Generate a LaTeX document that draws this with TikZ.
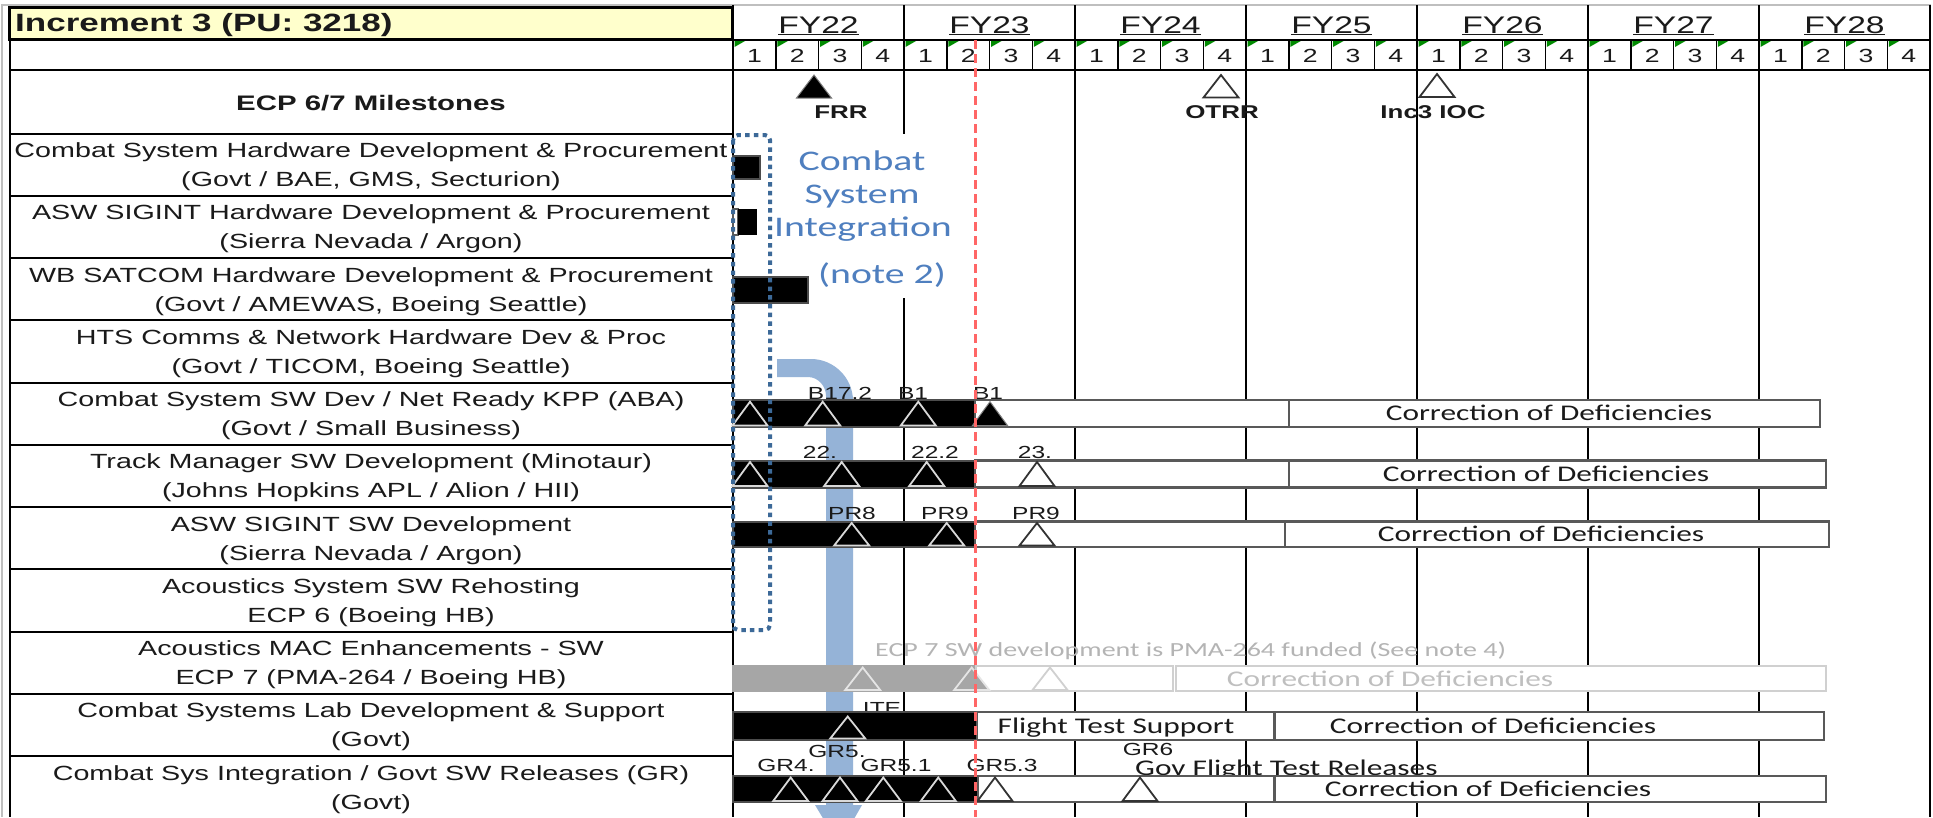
\documentclass[tikz,border=0pt]{standalone}
\usepackage{fontspec}
\setmainfont{Liberation Sans}[FakeStretch=1.4]
\newfontfamily\calfont{Carlito}[FakeStretch=1.4]
\usetikzlibrary{calc}
\definecolor{lblue}{HTML}{95B3D7}
\definecolor{dblue}{HTML}{3C6998}
\definecolor{tblue}{HTML}{4F7FBF}
\definecolor{hyel}{HTML}{FFFFCC}
\definecolor{rdash}{HTML}{FF6666}
\definecolor{qgreen}{HTML}{008A00}
\definecolor{ink}{HTML}{1A1A1A}
\definecolor{barg}{HTML}{A6A6A6}
\definecolor{lgray}{HTML}{D0D0D0}
\definecolor{ngray}{HTML}{B4B4B4}
\newcommand{\mtri}[4]{\draw[#1] ({#2-17.5},{#4}) -- ({#2},{#3}) -- ({#2+17.5},{#4}) -- cycle;}
\begin{document}
\begin{tikzpicture}[x=1pt,y=-1pt,
  gridline/.style={line width=2pt, black},
  lbl/.style={anchor=base, inner sep=0pt, text=ink, font=\fontsize{20.5}{24}\selectfont},
  hdr/.style={anchor=base west, inner sep=0pt, text=ink, font=\bfseries\fontsize{25}{29}\selectfont},
  fylbl/.style={anchor=base, inner sep=0pt, text=ink, font=\fontsize{24}{28}\selectfont},
  qlbl/.style={anchor=base, inner sep=0pt, text=ink, font=\fontsize{19}{22}\selectfont},
  mslbl/.style={anchor=base, inner sep=0pt, text=ink, font=\bfseries\fontsize{18.5}{22}\selectfont},
  smlbl/.style={anchor=base, inner sep=0pt, text=ink, font=\fontsize{17.5}{21}\selectfont},
  cdtext/.style={anchor=base, inner sep=0pt, text=ink, font=\calfont\fontsize{22.4}{26}\selectfont},
  bluetxt/.style={anchor=base, inner sep=0pt, text=tblue, font=\calfont\fontsize{28.4}{34}\selectfont},
  blkbar/.style={fill=black, draw=gray!60!black, line width=2pt},
  whbar/.style={fill=white, draw=black!65, line width=2.5pt},
  lgbar/.style={fill=white, draw=lgray, line width=2.5pt},
  graybar/.style={fill=barg, draw=barg, line width=2pt},
  tridk/.style={draw=white!85!black, line width=1.8pt},
  triwh/.style={fill=white, draw=black!80, line width=1.8pt},
  tribk/.style={fill=black, draw=gray, line width=1pt},
  trilg/.style={fill=white, draw=lgray, line width=1.8pt},
  trigr/.style={fill=barg, draw=white!90!black, line width=1.8pt},
  dotrect/.style={draw=dblue, line width=4pt, dash pattern=on 4.5pt off 4.2pt, rounded corners=5pt},
  reddash/.style={draw=rdash, line width=3pt, dash pattern=on 9pt off 5pt}
]
\useasboundingbox (0,0) rectangle (1933,817);
\fill[white] (0,0) rectangle (1933,817);
\draw[gray!50, line width=1.5pt] (2,817) -- (2,5) -- (1931,5);

% ---------- left column ----------
\fill[hyel] (9.5,7.5) rectangle (732,39.5);
\draw[line width=3pt] (9.5,7.5) rectangle (732,39.5);
\node[hdr] (inc) at (15,31.5) {Increment 3 (PU: 3218)};
\draw[line width=2pt] (9.5,39.5) -- (9.5,817);
\draw[line width=2.5pt] (9.5,70) -- (1930,70);
\foreach \yy in {133.5,195.75,258,320.25,382.5,444.75,507,569.25,631.5,693.75,756}
  \draw[line width=2pt] (9.5,\yy) -- (733,\yy);

\node[anchor=base, inner sep=0pt, text=ink, font=\bfseries\fontsize{21}{24}\selectfont] (ecp) at (371,110) {ECP 6/7 Milestones};

\node[lbl] (ra0) at (371,157.5) {Combat System Hardware Development \& Procurement};
\node[lbl] (rb0) at (371,186.5) {(Govt / BAE, GMS, Secturion)};
\node[lbl] (ra1) at (371,219.75) {ASW SIGINT Hardware Development \& Procurement};
\node[lbl] (rb1) at (371,248.75) {(Sierra Nevada / Argon)};
\node[lbl] (ra2) at (371,282) {WB SATCOM Hardware Development \& Procurement};
\node[lbl] (rb2) at (371,311) {(Govt / AMEWAS, Boeing Seattle)};
\node[lbl] (ra3) at (371,344.25) {HTS Comms \& Network Hardware Dev \& Proc};
\node[lbl] (rb3) at (371,373.25) {(Govt / TICOM, Boeing Seattle)};
\node[lbl] (ra4) at (371,406.5) {Combat System SW Dev / Net Ready KPP (ABA)};
\node[lbl] (rb4) at (371,435.5) {(Govt / Small Business)};
\node[lbl] (ra5) at (371,468.75) {Track Manager SW Development (Minotaur)};
\node[lbl] (rb5) at (371,497.75) {(Johns Hopkins APL / Alion / HII)};
\node[lbl] (ra6) at (371,531) {ASW SIGINT SW Development};
\node[lbl] (rb6) at (371,560) {(Sierra Nevada / Argon)};
\node[lbl] (ra7) at (371,593.25) {Acoustics System SW Rehosting};
\node[lbl] (rb7) at (371,622.25) {ECP 6 (Boeing HB)};
\node[lbl] (ra8) at (371,655.5) {Acoustics MAC Enhancements - SW};
\node[lbl] (rb8) at (371,684.5) {ECP 7 (PMA-264 / Boeing HB)};
\node[lbl] (ra9) at (371,717.75) {Combat Systems Lab Development \& Support};
\node[lbl] (rb9) at (371,746.75) {(Govt)};
\node[lbl] (ra10) at (371,780) {Combat Sys Integration / Govt SW Releases (GR)};
\node[lbl] (rb10) at (371,809) {(Govt)};

% ---------- timeline header ----------
\draw[line width=1.5pt] (733,40) -- (1930,40);
\foreach \i/\yr in {0/22,1/23,2/24,3/25,4/26,5/27,6/28}
  \node[fylbl] (fy\yr) at (733+171*\i+85.5,33) {\underline{FY\yr}};
\foreach \j in {0,...,27} {
  \pgfmathsetmacro\xq{733+42.75*\j}
  \pgfmathtruncatemacro\qn{mod(\j,4)+1}
  \fill[qgreen] (\xq+1.5,41) -- (\xq+12,41) -- (\xq+1.5,47) -- cycle;
  \node[qlbl] (q\j) at (\xq+21.4,62.5) {\qn};
  \ifnum\qn>1 \draw[line width=1.5pt] (\xq,40) -- (\xq,70); \fi
}
\foreach \i in {0,...,7}
  \draw[gridline] (733+171*\i,5) -- (733+171*\i,817);

% ---------- milestones ----------
\mtri{tribk}{814}{75}{98}
\mtri{triwh}{1221}{75}{97.5}
\mtri{triwh}{1437}{74}{97}
\node[mslbl] (frr) at (841,118.3) {FRR};
\node[mslbl] (otrr) at (1222,118) {OTRR};
\node[mslbl] (ioc) at (1433,118) {Inc3 IOC};

% ---------- blue note ----------
\fill[white] (772,134) rectangle (958,298);
\node[bluetxt] (cs1) at (862,170) {Combat};
\node[bluetxt] (cs2) at (862,203.5) {System};
\node[bluetxt] (cs3) at (863,236.7) {Integration};
\node[bluetxt] (cs4) at (882,283.3) {(note 2)};

% ---------- blue flow arrow ----------
\fill[lblue] (777,359) -- (811,359) .. controls (834,359) and (853,378) .. (853,401)
  -- (853,805) -- (862,805) -- (839,845) -- (815,805) -- (826,805) -- (826,396)
  .. controls (826,386) and (818,377) .. (808,377) -- (777,377) -- cycle;

% ---------- small labels (under bars) ----------
\node[smlbl] (b172) at (840,399.5) {B17.2};
\node[smlbl] (b1a) at (913,399.5) {B1};
\node[smlbl] (b1b) at (988,399.5) {B1};
\node[smlbl] (v22) at (820,458.5) {22.};
\node[smlbl] (v222) at (935,458.5) {22.2};
\node[smlbl] (v23) at (1035,458.5) {23.};
\node[smlbl] (pr8) at (852,519) {PR8};
\node[smlbl] (pr9a) at (945,519.5) {PR9};
\node[smlbl] (pr9b) at (1036,519.5) {PR9};
\node[smlbl] (ite) at (882,714) {ITE};
\node[smlbl] (gr4) at (786,771.5) {GR4.};
\node[smlbl] (gr5) at (837,757) {GR5.};
\node[smlbl] (gr51) at (896,771.5) {GR5.1};
\node[smlbl] (gr53) at (1002,771.5) {GR5.3};
\node[smlbl] (gr6) at (1148,755.5) {GR6};
\node[cdtext, anchor=base west] (gov) at (1135,775) {Gov Flight Test Releases};
\node[anchor=base west, inner sep=0pt, text=ngray, font=\calfont\fontsize{20}{24}\selectfont] (ecp7) at (875,656) {ECP 7 SW development is PMA-264 funded (See note 4)};

% ---------- bars ----------
\draw[blkbar] (733,156) rectangle (760,179);
\draw[whbar, line width=1.5pt] (733,209) rectangle (738,235);
\fill[black] (738,209) rectangle (757,235);
\draw[blkbar] (733,277) rectangle (808,303);

% row 4
\draw[blkbar] (733,400) rectangle (975,427);
\draw[whbar] (975,400) rectangle (1289,427);
\draw[whbar] (1289,400) rectangle (1820,427);
\node[cdtext] (cd4) at (1549,420.8) {Correction of Deficiencies};
\mtri{tridk}{750}{401.7}{425.5}
\mtri{tridk}{822.7}{401.7}{425.5}
\mtri{tridk}{918.3}{401.7}{425.5}
\mtri{tribk}{990}{401.7}{425.5}

% row 5
\draw[blkbar] (733,460.5) rectangle (975,487.5);
\draw[whbar] (975,460.5) rectangle (1289,487.5);
\draw[whbar] (1289,460.5) rectangle (1826,487.5);
\node[cdtext] (cd5) at (1546,481.5) {Correction of Deficiencies};
\mtri{tridk}{750}{462}{486}
\mtri{tridk}{841.7}{462}{486}
\mtri{tridk}{926.7}{462}{486}
\mtri{triwh}{1037}{462}{486}

% row 6
\draw[blkbar] (733,521.5) rectangle (975,547);
\draw[whbar] (975,521.5) rectangle (1285,547);
\draw[whbar] (1285,521.5) rectangle (1829,547);
\node[cdtext] (cd6) at (1541,541.5) {Correction of Deficiencies};
\mtri{tridk}{851.7}{523}{545.5}
\mtri{tridk}{946.7}{523}{545.5}
\mtri{triwh}{1037}{523}{545.5}

% row 8 (grey, PMA-264 funded)
\draw[graybar] (733,666) rectangle (976,691);
\draw[lgbar] (976,666) rectangle (1173,691);
\draw[lgbar] (1176,666) rectangle (1826,691);
\node[cdtext, text=ngray!85] (cd8) at (1390,686.5) {Correction of Deficiencies};
\mtri{trigr}{862.7}{667.5}{690}
\mtri{trigr}{971.7}{667.5}{690}
\mtri{trilg}{1050}{667.5}{690}

% row 9
\draw[blkbar] (733,712) rectangle (977,740);
\draw[whbar] (977,712) rectangle (1274,740);
\draw[whbar] (1275,712) rectangle (1824,740);
\node[cdtext] (fts) at (1116,733.5) {Flight Test Support};
\node[cdtext] (cd9) at (1493,733.5) {Correction of Deficiencies};
\mtri{tridk}{847.7}{716.5}{738.5}

% row 10
\draw[blkbar] (733,776) rectangle (978,802);
\draw[whbar] (978,776) rectangle (1274,802);
\draw[whbar] (1275,776) rectangle (1826,802);
\node[cdtext] (cd10) at (1488,796.5) {Correction of Deficiencies};
\mtri{tridk}{790.7}{777.5}{801}
\mtri{tridk}{840}{777.5}{801}
\mtri{tridk}{883.3}{777.5}{801}
\mtri{tridk}{938.3}{777.5}{801}
\mtri{triwh}{995}{777.5}{801}
\mtri{triwh}{1140}{777.5}{801}

% ---------- overlays ----------
\draw[dotrect] (733,135) rectangle (770,630);
\draw[reddash] (975,40) -- (975,817);
\end{tikzpicture}
\end{document}
